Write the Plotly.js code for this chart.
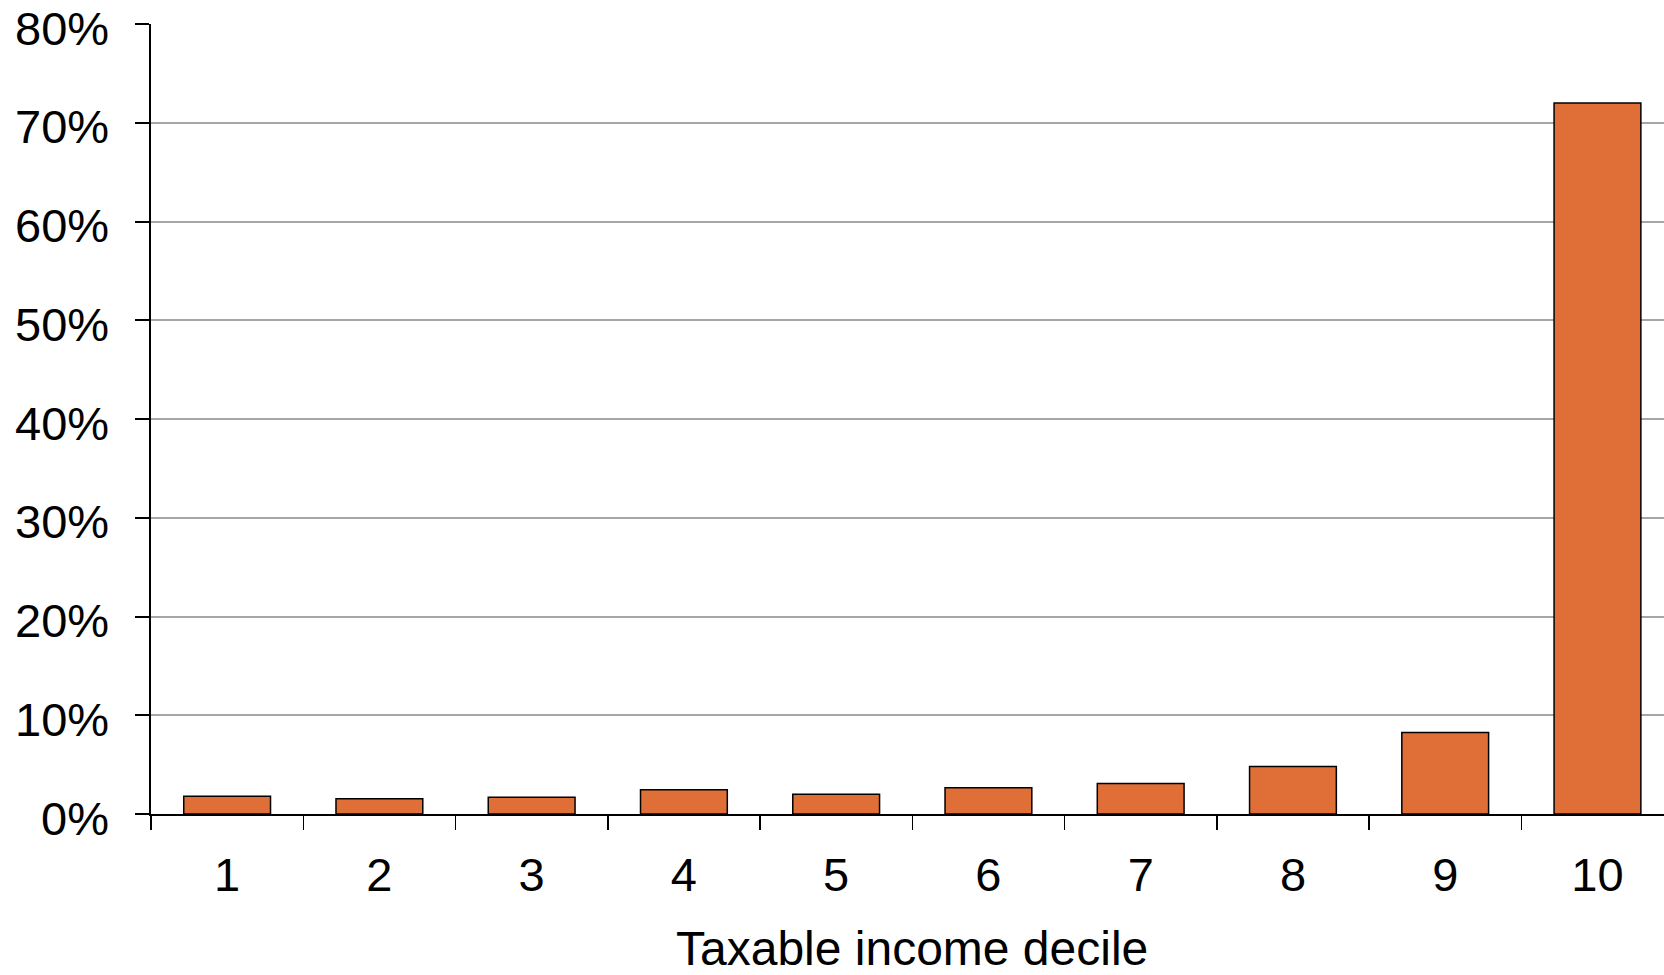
<!DOCTYPE html>
<html>
<head>
<meta charset="utf-8">
<script src="https://cdn.plot.ly/plotly-3.0.1.min.js"></script>
<style>html,body{margin:0;padding:0;background:#fff;}#chart{width:1664px;height:975px;}</style>
</head>
<body>
<div id="chart"></div>
<script>
const deciles = ['1','2','3','4','5','6','7','8','9','10'];
const shares = [1.8, 1.55, 1.7, 2.45, 2.0, 2.65, 3.1, 4.8, 8.25, 72.0];
const yTicks = [0, 10, 20, 30, 40, 50, 60, 70, 80];
const yTickLabels = ['0%', '10%', '20%', '30%', '40%', '50%', '60%', '70%', '80%'];
const xTitle = 'Taxable income decile';

const trace = {
  type: 'bar',
  x: deciles,
  y: shares,
  width: 0.57,
  marker: {color: '#E06E37', line: {color: '#000000', width: 1.5}},
  hoverinfo: 'x+y'
};

// y tick labels drawn as annotations so they can sit slightly below their gridlines, as in the original
const yLabelAnnotations = yTicks.map((v, i) => ({
  xref: 'paper', x: 0, xanchor: 'right', xshift: -40,
  yref: 'y', y: v, yanchor: 'middle', yshift: -4,
  text: yTickLabels[i], showarrow: false,
  font: {size: 47, color: '#000000'}
}));

// x-axis title, centred on the full (partly cropped) category band
const xTitleAnnotation = {
  xref: 'x', x: 4.5, xanchor: 'center',
  yref: 'paper', y: 0, yanchor: 'middle', yshift: -134,
  borderpad: 0,
  text: xTitle, showarrow: false,
  font: {size: 48, color: '#000000'}
};

const layout = {
  width: 1664,
  height: 975,
  margin: {l: 151, r: 0, t: 24, b: 161, pad: 0},
  paper_bgcolor: '#ffffff',
  plot_bgcolor: '#ffffff',
  font: {family: '"Liberation Sans", Arial, sans-serif', color: '#000000', size: 47},
  showlegend: false,
  bargap: 0.43,
  annotations: yLabelAnnotations.concat([xTitleAnnotation]),
  xaxis: {
    type: 'category',
    range: [-0.5, 9.437],
    showline: true,
    linecolor: '#000000',
    linewidth: 2,
    ticks: 'outside',
    tickson: 'boundaries',
    ticklen: 14,
    tickwidth: 1.5,
    tickcolor: '#000000',
    showgrid: false,
    zeroline: false,
    ticklabelstandoff: 19,
    ticklabeloverflow: 'allow',
    tickfont: {size: 47}
  },
  yaxis: {
    range: [0, 80],
    tickvals: yTicks,
    showticklabels: false,
    showline: true,
    linecolor: '#000000',
    linewidth: 2,
    ticks: 'outside',
    ticklen: 14,
    tickwidth: 2,
    tickcolor: '#000000',
    showgrid: true,
    gridcolor: '#a6a6a6',
    gridwidth: 2,
    zeroline: false
  }
};

Plotly.newPlot('chart', [trace], layout, {displayModeBar: false, staticPlot: true});
</script>
</body>
</html>
